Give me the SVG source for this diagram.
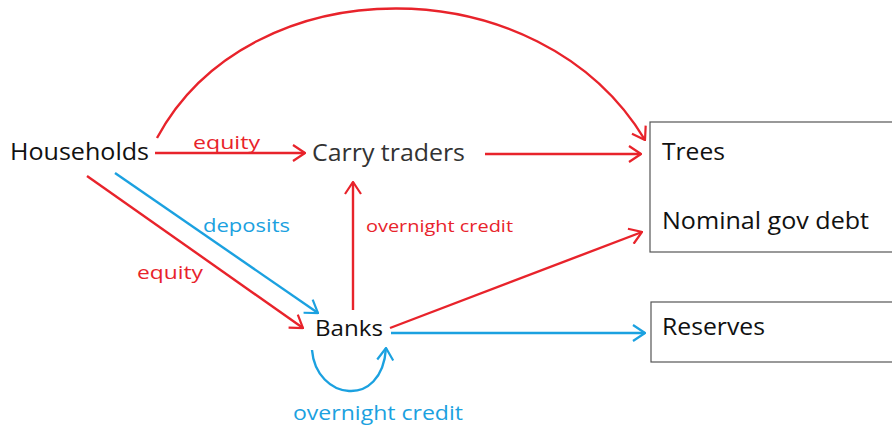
<svg xmlns="http://www.w3.org/2000/svg" width="892" height="426" viewBox="0 0 892 426">
<defs>
<style>
.t{font-family:"Open Sans","Noto Sans",sans-serif;fill:#111}
.r{stroke:#e8232b;stroke-width:2.4;fill:none}
.b{stroke:#1ba1e0;stroke-width:2.4;fill:none}
.lr{font-family:"Open Sans","Noto Sans",sans-serif;fill:#e8232b}
.lb{font-family:"Open Sans","Noto Sans",sans-serif;fill:#1ba1e0}
.box{fill:#fff;stroke:#555;stroke-width:1.2}
</style>
<marker id="ar" viewBox="0 0 14 18" refX="13" refY="9" markerWidth="14" markerHeight="18" markerUnits="userSpaceOnUse" orient="auto">
<path d="M1,1 L13,9 L1,17" fill="none" stroke="#e8232b" stroke-width="2.2"/>
</marker>
<marker id="ab" viewBox="0 0 14 18" refX="13" refY="9" markerWidth="14" markerHeight="18" markerUnits="userSpaceOnUse" orient="auto">
<path d="M1,1 L13,9 L1,17" fill="none" stroke="#1ba1e0" stroke-width="2.2"/>
</marker>
</defs>
<rect width="892" height="426" fill="#fff"/>
<g id="connectors">
<path class="r" d="M157,138 C250,-35 540,-35 645,140" marker-end="url(#ar)"/>
<path class="r" d="M155,153 L305,153" marker-end="url(#ar)"/>
<path class="r" d="M485,154 L641,154" marker-end="url(#ar)"/>
<path class="r" d="M87,176 L303,328" marker-end="url(#ar)"/>
<path class="b" d="M115,173 L318,313" marker-end="url(#ab)"/>
<path class="r" d="M353,310 L353,182" marker-end="url(#ar)"/>
<path class="r" d="M390,328 L642,232" marker-end="url(#ar)"/>
<path class="b" d="M391,333 L645,333" marker-end="url(#ab)"/>
<path class="b" d="M312,350 C316,400 382,410 386,348" marker-end="url(#ab)"/>
<text class="lr" x="193" y="149" font-size="19" textLength="67" lengthAdjust="spacingAndGlyphs">equity</text>
<text class="lb" x="203" y="232" font-size="19" textLength="87" lengthAdjust="spacingAndGlyphs">deposits</text>
<text class="lr" x="137" y="279" font-size="19" textLength="66" lengthAdjust="spacingAndGlyphs">equity</text>
<text class="lr" x="366" y="232" font-size="17" textLength="147" lengthAdjust="spacingAndGlyphs">overnight credit</text>
<text class="lb" x="293" y="420" font-size="20" textLength="170" lengthAdjust="spacingAndGlyphs">overnight credit</text>
</g>
<g id="households"><text class="t" x="10" y="160" font-size="23" textLength="139" lengthAdjust="spacingAndGlyphs">Households</text></g>
<g id="carry"><text class="t" x="312" y="161" font-size="23" style="fill:#333" textLength="153" lengthAdjust="spacingAndGlyphs">Carry traders</text></g>
<g id="banks"><text class="t" x="315" y="336" font-size="22" textLength="68" lengthAdjust="spacingAndGlyphs">Banks</text></g>
<g id="assets">
<rect class="box" x="650" y="122" width="250" height="130"/>
<text class="t" x="662" y="160" font-size="23" textLength="63" lengthAdjust="spacingAndGlyphs">Trees</text>
<text class="t" x="662" y="229" font-size="23" textLength="207" lengthAdjust="spacingAndGlyphs">Nominal gov debt</text>
</g>
<g id="reserves">
<rect class="box" x="651" y="302" width="250" height="60"/>
<text class="t" x="662" y="335" font-size="23" textLength="103" lengthAdjust="spacingAndGlyphs">Reserves</text>
</g>
</svg>
